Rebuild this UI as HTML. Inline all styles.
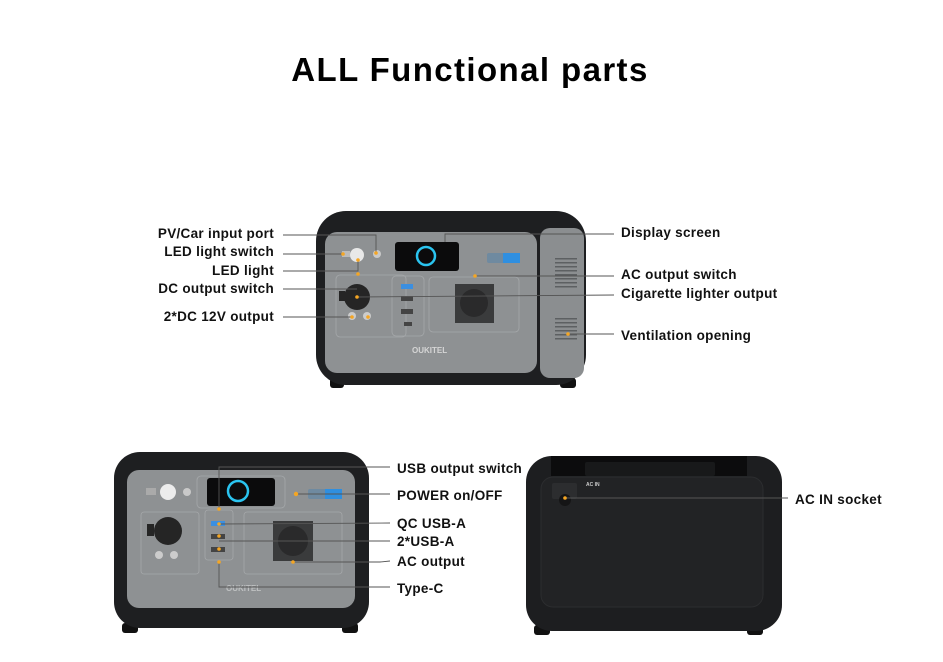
<!DOCTYPE html>
<html><head><meta charset="utf-8"><style>
html,body{margin:0;padding:0;background:#fff;}
svg{display:block;}
text{font-family:"Liberation Sans",sans-serif;}
.l{font-size:13.5px;font-weight:bold;fill:#111;letter-spacing:0.3px;}
.ln{stroke:#555;stroke-width:0.9;fill:none;}
.dot{fill:#f5a623;}
</style></head><body>
<svg width="943" height="662" viewBox="0 0 943 662" xmlns="http://www.w3.org/2000/svg">
<rect width="943" height="662" fill="#fff"/>
<text x="470" y="81" text-anchor="middle" style="font-size:33px;font-weight:bold;fill:#000;letter-spacing:1.4px">ALL Functional parts</text>

<!-- TOP DEVICE -->
<rect x="330" y="378" width="14" height="10" rx="3" fill="#111"/>
<rect x="560" y="378" width="16" height="10" rx="3" fill="#111"/>
<rect x="316" y="211" width="270" height="174" rx="30" fill="#1e1f21"/>
<rect x="540" y="228" width="44" height="150" rx="10" fill="#8b8e90"/>
<rect x="325" y="232" width="212" height="141" rx="12" fill="#8e9193"/>
<g fill="#5d6062">
<rect x="555" y="258" width="22" height="1.5"/><rect x="555" y="262" width="22" height="1.5"/><rect x="555" y="266" width="22" height="1.5"/><rect x="555" y="270" width="22" height="1.5"/><rect x="555" y="274" width="22" height="1.5"/><rect x="555" y="278" width="22" height="1.5"/><rect x="555" y="282" width="22" height="1.5"/><rect x="555" y="286" width="22" height="1.5"/>
<rect x="555" y="318" width="22" height="1.5"/><rect x="555" y="322" width="22" height="1.5"/><rect x="555" y="326" width="22" height="1.5"/><rect x="555" y="330" width="22" height="1.5"/><rect x="555" y="334" width="22" height="1.5"/><rect x="555" y="338" width="22" height="1.5"/>
</g>
<rect x="395" y="242" width="64" height="29" rx="3" fill="#0b0b0c"/>
<circle cx="426" cy="256" r="9" fill="none" stroke="#2ac4f0" stroke-width="2.5"/>
<rect x="487" y="253" width="33" height="10" rx="2" fill="#6f8aa0"/><rect x="503" y="253" width="17" height="10" fill="#2f8fe0"/>
<circle cx="357" cy="255" r="7" fill="#e8e8e8"/>
<circle cx="377" cy="254" r="4" fill="#c9c9c9"/>
<rect x="342" y="251" width="8" height="6" fill="#bbb"/>
<rect x="336" y="275" width="70" height="62" rx="4" fill="none" stroke="#a5a8aa" stroke-width="0.8"/>
<rect x="392" y="276" width="32" height="60" rx="4" fill="none" stroke="#a5a8aa" stroke-width="0.8"/>
<rect x="429" y="277" width="90" height="55" rx="4" fill="none" stroke="#a5a8aa" stroke-width="0.8"/>
<circle cx="357" cy="297" r="13" fill="#252525"/><rect x="339" y="291" width="6" height="10" fill="#252525"/>
<circle cx="352" cy="316" r="4" fill="#ccc"/><circle cx="367" cy="316" r="4" fill="#ccc"/>
<rect x="401" y="284" width="12" height="5" fill="#3c8fe0"/><rect x="401" y="296" width="12" height="5" fill="#444"/><rect x="401" y="309" width="12" height="5" fill="#444"/><rect x="404" y="322" width="8" height="4" fill="#444"/>
<rect x="455" y="284" width="39" height="39" fill="#3a3b3c"/><circle cx="474" cy="303" r="14" fill="#2a2a2b"/>
<text x="412" y="353" style="font-size:8px;fill:#d5d5d5;font-weight:bold">OUKITEL</text>
<g class="l">
<text x="274" y="238" text-anchor="end">PV/Car input port</text>
<text x="274" y="256" text-anchor="end">LED light switch</text>
<text x="274" y="275" text-anchor="end">LED light</text>
<text x="274" y="293" text-anchor="end">DC output switch</text>
<text x="274" y="321" text-anchor="end">2*DC 12V output</text>
<text x="621" y="237">Display screen</text>
<text x="621" y="279">AC output switch</text>
<text x="621" y="298">Cigarette lighter output</text>
<text x="621" y="340">Ventilation opening</text>
</g>
<g class="ln">
<polyline points="283,235 376,235 376,252"/>
<line x1="283" y1="254" x2="343" y2="254"/>
<polyline points="283,271 358,271 358,260"/>
<line x1="283" y1="289" x2="357" y2="289"/>
<line x1="283" y1="317" x2="352" y2="317"/>
<polyline points="445,242 445,234 614,234"/>
<line x1="475" y1="276" x2="614" y2="276"/>
<line x1="357" y1="297" x2="614" y2="295"/>
<line x1="568" y1="334" x2="614" y2="334"/>
</g>
<g class="dot"><circle cx="343" cy="254" r="1.8"/><circle cx="376" cy="253" r="1.8"/><circle cx="358" cy="260" r="1.8"/><circle cx="358" cy="274" r="1.8"/><circle cx="357" cy="297" r="1.8"/><circle cx="352" cy="317" r="1.8"/><circle cx="368" cy="317" r="1.8"/><circle cx="475" cy="276" r="1.8"/><circle cx="568" cy="334" r="1.8"/></g>

<!-- BOTTOM LEFT DEVICE -->
<rect x="122" y="623" width="16" height="10" rx="3" fill="#111"/><rect x="342" y="623" width="16" height="10" rx="3" fill="#111"/>
<rect x="114" y="452" width="255" height="176" rx="26" fill="#1e1f21"/>
<rect x="127" y="470" width="228" height="138" rx="12" fill="#8e9193"/>
<rect x="141" y="512" width="58" height="62" rx="3" fill="none" stroke="#a5a8aa" stroke-width="0.8"/>
<rect x="205" y="510" width="28" height="50" rx="3" fill="none" stroke="#a5a8aa" stroke-width="0.8"/>
<rect x="244" y="512" width="98" height="62" rx="3" fill="none" stroke="#a5a8aa" stroke-width="0.8"/>
<rect x="197" y="476" width="88" height="32" rx="4" fill="none" stroke="#a5a8aa" stroke-width="0.8"/>
<rect x="207" y="478" width="68" height="28" rx="3" fill="#0b0b0c"/>
<circle cx="238" cy="491" r="10" fill="none" stroke="#2ac4f0" stroke-width="2.5"/>
<rect x="308" y="489" width="34" height="10" rx="2" fill="#6f8aa0"/><rect x="325" y="489" width="17" height="10" fill="#2f8fe0"/>
<circle cx="168" cy="492" r="8" fill="#ececec"/><circle cx="187" cy="492" r="4" fill="#c9c9c9"/>
<rect x="146" y="488" width="10" height="7" fill="#aaa"/>
<circle cx="168" cy="531" r="14" fill="#252525"/><rect x="147" y="524" width="7" height="12" fill="#252525"/>
<circle cx="159" cy="555" r="4" fill="#ccc"/><circle cx="174" cy="555" r="4" fill="#ccc"/>
<rect x="211" y="521" width="14" height="5" fill="#3c8fe0"/><rect x="211" y="534" width="14" height="5" fill="#444"/><rect x="211" y="547" width="14" height="5" fill="#444"/>
<rect x="273" y="521" width="40" height="40" fill="#3a3b3c"/><circle cx="293" cy="541" r="15" fill="#2a2a2b"/>
<text x="226" y="591" style="font-size:8px;fill:#bfc1c2;font-weight:bold">OUKITEL</text>
<g class="l">
<text x="397" y="473">USB output switch</text>
<text x="397" y="500">POWER on/OFF</text>
<text x="397" y="528">QC USB-A</text>
<text x="397" y="546">2*USB-A</text>
<text x="397" y="566">AC output</text>
<text x="397" y="593">Type-C</text>
</g>
<g class="ln">
<polyline points="219,509 219,467 390,467"/>
<line x1="296" y1="494" x2="390" y2="494"/>
<line x1="219" y1="524" x2="390" y2="523"/>
<line x1="219" y1="541" x2="390" y2="541"/>
<polyline points="293,562 380,562 390,561"/>
<polyline points="219,562 219,587 390,587"/>
</g>
<g class="dot"><circle cx="219" cy="509" r="1.8"/><circle cx="296" cy="494" r="2.2"/><circle cx="219" cy="524" r="1.8"/><circle cx="219" cy="536" r="1.8"/><circle cx="219" cy="549" r="1.8"/><circle cx="219" cy="562" r="1.8"/><circle cx="293" cy="562" r="1.8"/></g>

<!-- BOTTOM RIGHT DEVICE -->
<rect x="534" y="625" width="16" height="10" rx="3" fill="#111"/><rect x="747" y="625" width="16" height="10" rx="3" fill="#111"/>
<rect x="526" y="456" width="256" height="175" rx="26" fill="#1d1e20"/>
<rect x="551" y="456" width="196" height="20" fill="#0c0c0d"/>
<rect x="585" y="462" width="130" height="14" rx="2" fill="#18191a"/>
<rect x="541" y="477" width="222" height="130" rx="12" fill="#222325" stroke="#2c2d2f" stroke-width="1"/>
<rect x="552" y="483" width="25" height="16" rx="2" fill="#2c2d2f"/>
<circle cx="565" cy="500" r="6" fill="#151516"/>
<text x="586" y="486" style="font-size:5px;fill:#ccc;font-weight:bold">AC IN</text>
<line class="ln" x1="565" y1="498" x2="788" y2="498"/>
<circle class="dot" cx="565" cy="498" r="1.8"/>
<text class="l" x="795" y="504">AC IN socket</text>
</svg>
</body></html>
